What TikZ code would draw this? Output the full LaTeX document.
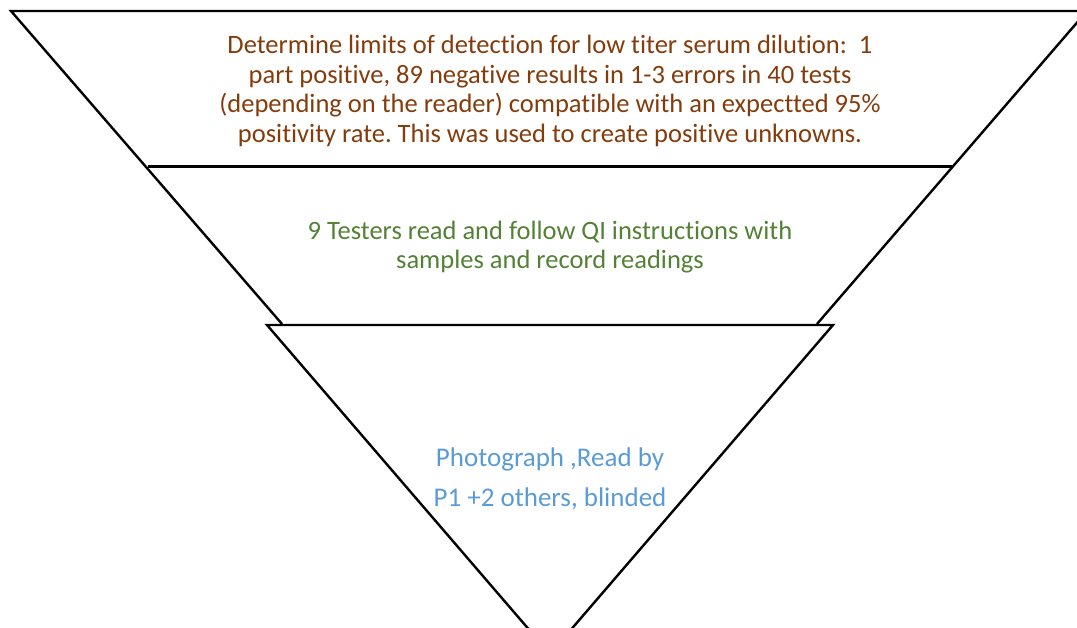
\documentclass[tikz,border=0pt]{standalone}
\usepackage{fontspec}
\setmainfont{Carlito}[Ligatures=NoCommon]
\usetikzlibrary{positioning}
\definecolor{stepbrown}{HTML}{843C0C}
\definecolor{stepgreen}{HTML}{538135}
\definecolor{stepblue}{HTML}{5B9BD5}
\frenchspacing
\tikzset{
    funnel line/.style = {line width=2.4pt, draw=black, line join=miter},
    divider/.style = {line width=3pt, draw=black},
    stage text/.style = {
      align=center, inner sep=0, font=\fontsize{26.5}{29.5}\selectfont,
    },
    photo text/.style = {
      stage text, font=\fontsize{27}{40}\selectfont,
    },
}

\begin{document}
\begin{tikzpicture}[x=1pt, y=-1pt]
    \useasboundingbox (0,0) rectangle (1077,628);
    \clip (0,0) rectangle (1077,628);

    %% Corners of the outer funnel and the small triangle
    \coordinate (outer nw) at (11,11);
    \coordinate (outer ne) at (1087,11);
    \coordinate (band1 w) at (148,167);
    \coordinate (band1 e) at (952,167);
    \coordinate (band2 w) at (282,324);
    \coordinate (band2 e) at (817,324);
    \coordinate (tip nw) at (267,325);
    \coordinate (tip ne) at (833,325);
    \coordinate (tip s) at (550,654);

    %% Draw the two upper bands
    \draw [funnel line] (band2 w) -- (outer nw) -- (outer ne) -- (band2 e);
    \draw [divider] (band1 w) -- (band1 e);

    %% Draw the bottom triangle
    \draw [funnel line] (tip nw) -- (tip ne) -- (tip s) -- cycle;

    %% Stage texts
    \node [stage text, text=stepbrown] (limits) at (550,91) {%
      Determine limits of detection for low titer serum dilution:~ 1\\
      part positive, 89 negative results in 1-3 errors in 40 tests\\
      (depending on the reader) compatible with an expectted 95\%\\
      positivity rate. This was used to create positive unknowns.};
    \node [stage text, text=stepgreen] (testers) at (550,247) {%
      9 Testers read and follow QI instructions with\\
      samples and record readings};
    \node [photo text, text=stepblue] (photo) at (550,479) {%
      Photograph ,Read by\\
      P1 +2 others, blinded};
\end{tikzpicture}
\end{document}
